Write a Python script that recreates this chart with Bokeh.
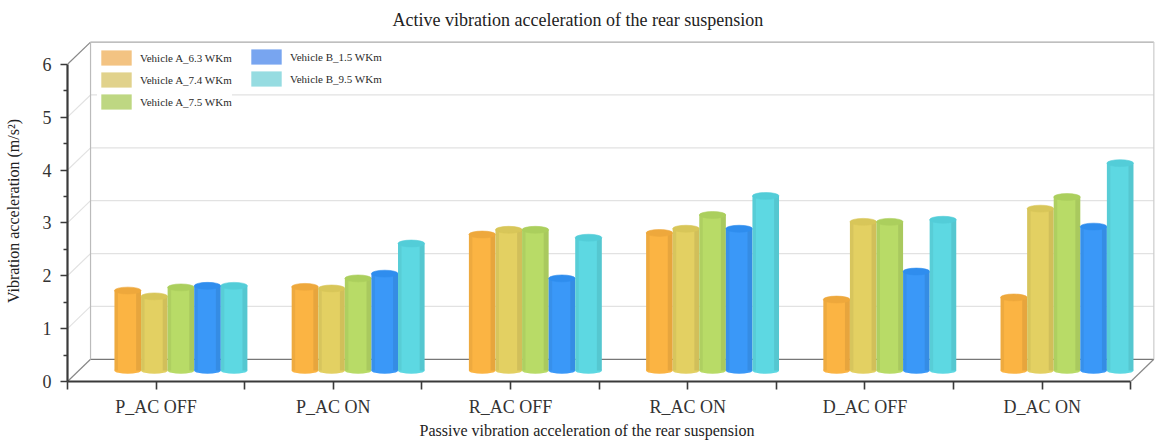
from bokeh.plotting import figure
from bokeh.models import Range1d, LinearAxis, FixedTicker, Legend, LegendItem, Title
from bokeh.embed import file_html
from bokeh.resources import INLINE

# ---------------- data ----------------
categories = ["P_AC OFF", "P_AC ON", "R_AC OFF", "R_AC ON", "D_AC OFF", "D_AC ON"]
series_names = ["Vehicle A_6.3 WKm", "Vehicle A_7.4 WKm", "Vehicle A_7.5 WKm",
                "Vehicle B_1.5 WKm", "Vehicle B_9.5 WKm"]
vehicle_a_63 = [1.51, 1.58, 2.57, 2.60, 1.34, 1.38]
vehicle_a_74 = [1.40, 1.55, 2.66, 2.68, 2.81, 3.06]
vehicle_a_75 = [1.57, 1.74, 2.66, 2.94, 2.81, 3.28]
vehicle_b_15 = [1.60, 1.83, 1.74, 2.68, 1.87, 2.72]
vehicle_b_95 = [1.60, 2.40, 2.51, 3.30, 2.85, 3.92]
y_ticks = [0, 1, 2, 3, 4, 5, 6]

title_text = "Active vibration acceleration of the rear  suspension"
x_label = "Passive vibration acceleration of the rear suspension"
y_label = "Vibration acceleration (m/s\u00b2)"

# ---------------- style ----------------
FONT = "Liberation Serif"
colors = ["#FBB443", "#E3D062", "#B8DB67", "#3A98F8", "#5DD8E2"]
cap_colors = ["#EEA83C", "#D8C659", "#ABCF5D", "#2F8DEE", "#53CDD8"]
legend_colors = ["#F3C382", "#E1D28C", "#BED782", "#78A5F0", "#96DCE1"]
DX, DY = 0.13, 0.42          # oblique depth offset of the back wall (data units)
BAR_W = 0.15
BAR_SHIFT = 0.14
BASE = 0.21
CAP_H = 0.13

all_series = [vehicle_a_63, vehicle_a_74, vehicle_a_75, vehicle_b_15, vehicle_b_95]
n_cat = len(categories)
x0, x1 = 0.5, n_cat + 0.5
ymax = y_ticks[-1]

p = figure(width=1156, height=442, output_backend="svg", toolbar_location=None,
           x_range=Range1d(x0, x1 + DX + 0.015), y_range=Range1d(0, 6.45),
           x_axis_type=None, y_axis_type=None,
           min_border_left=67, min_border_right=0, min_border_top=39, min_border_bottom=61)
p.outline_line_color = None
p.background_fill_color = "white"
p.border_fill_color = "white"

# ---------------- back wall / floor ----------------
gx0, gy0, gx1, gy1, gc, gw = [], [], [], [], [], []
for k in y_ticks:
    gx0.append(x0 + DX); gy0.append(k + DY); gx1.append(x1 + DX); gy1.append(k + DY)
    gc.append("#777777" if k == 0 else ("#aaaaaa" if k == ymax else "#e2e2e2")); gw.append(1.3)
    gx0.append(x0); gy0.append(k); gx1.append(x0 + DX); gy1.append(k + DY)
    gc.append("#888888" if k in (0, ymax) else "#e2e2e2"); gw.append(1.2)
gx0 += [x0 + DX, x1 + DX]; gy0 += [DY, DY]; gx1 += [x0 + DX, x1 + DX]; gy1 += [ymax + DY, ymax + DY]
gc += ["#bbbbbb", "#cccccc"]; gw += [1.2, 1.2]
gx0.append(x1); gy0.append(0); gx1.append(x1 + DX); gy1.append(DY); gc.append("#888888"); gw.append(1.2)
p.segment(x0=gx0, y0=gy0, x1=gx1, y1=gy1, line_color=gc, line_width=gw)

# ---------------- cylinders ----------------
legend_renderers = []
for j, vals in enumerate(all_series):
    xs = [i + 1 + BAR_SHIFT + (j - 2) * BAR_W for i in range(n_cat)]
    tops = [v + BASE for v in vals]
    p.ellipse(x=xs, y=BASE, width=BAR_W, height=CAP_H, fill_color=colors[j], line_color=None)
    p.vbar(x=xs, width=BAR_W, top=tops, bottom=BASE, fill_color=colors[j], line_color=None)
    p.vbar(x=[x - BAR_W / 2 + 0.01 for x in xs], width=0.02, top=tops, bottom=BASE,
           fill_color="black", fill_alpha=0.05, line_color=None)
    p.vbar(x=[x + BAR_W / 2 - 0.014 for x in xs], width=0.028, top=tops, bottom=BASE,
           fill_color="black", fill_alpha=0.08, line_color=None)
    p.ellipse(x=xs, y=tops, width=BAR_W, height=CAP_H, fill_color=cap_colors[j],
              line_color=cap_colors[j], line_alpha=0.6)
    # legend swatch renderer: one zero-height bar outside the visible range
    legend_renderers.append(p.vbar(x=[x0 - 1], width=BAR_W, top=[0], bottom=0,
                                   fill_color=legend_colors[j], line_color=None))

# ---------------- axes ----------------
xax = LinearAxis(ticker=FixedTicker(ticks=[i + 1 for i in range(n_cat)],
                                    minor_ticks=[i + 0.5 for i in range(n_cat + 1)]),
                 bounds=(x0, x1))
xax.major_label_overrides = {i + 1: c for i, c in enumerate(categories)}
yax = LinearAxis(ticker=FixedTicker(ticks=y_ticks, minor_ticks=[t + 0.5 for t in y_ticks[:-1]]),
                 bounds=(0, ymax), axis_label=y_label)
for ax in (xax, yax):
    ax.axis_line_width = 2.2
    ax.axis_line_color = "#3a3a3a"
    ax.major_tick_line_color = "#3a3a3a"
    ax.minor_tick_line_color = "#3a3a3a"
    ax.major_tick_line_width = 1.6
    ax.minor_tick_line_width = 1.6
    ax.major_tick_in = 0
    ax.minor_tick_in = 0
    ax.major_label_text_font = FONT
    ax.major_label_text_color = "#333333"
    ax.axis_label_text_font = FONT
    ax.axis_label_text_font_style = "normal"
    ax.axis_label_text_font_size = "16px"
    ax.axis_label_text_color = "#222222"
xax.major_tick_out = 8
xax.minor_tick_out = 8
xax.major_label_text_font_size = "18px"
xax.major_label_standoff = 7
yax.major_tick_out = 7
yax.minor_tick_out = 4
yax.major_label_text_font_size = "18px"
yax.major_label_standoff = 9
yax.axis_label_standoff = 18
p.add_layout(xax, "below")
p.add_layout(yax, "left")

# ---------------- legends ----------------
def make_legend(idx, loc):
    lg = Legend(items=[LegendItem(label=series_names[k], renderers=[legend_renderers[k]]) for k in idx],
                location=loc, orientation="vertical")
    lg.glyph_width = 38
    lg.glyph_height = 19
    lg.label_height = 19
    lg.label_standoff = 5
    lg.spacing = 3
    lg.padding = 2
    lg.margin = 0
    lg.label_text_font = FONT
    lg.label_text_font_size = "11px"
    lg.label_text_color = "#2a2a2a"
    lg.background_fill_color = "white"
    lg.background_fill_alpha = 1.0
    lg.border_line_color = None
    return lg

p.add_layout(make_legend([0, 1, 2], (30, 270)))
p.add_layout(make_legend([3, 4], (180, 293)))

# ---------------- title and x-axis title ----------------
p.add_layout(Title(text=title_text, align="left", offset=325, text_font=FONT,
                   text_font_size="18px", text_font_style="normal", text_color="#222222",
                   vertical_align="top", standoff=18), "above")
p.add_layout(Title(text=x_label, align="left", offset=352, text_font=FONT,
                   text_font_size="16px", text_font_style="normal", text_color="#222222",
                   vertical_align="middle", standoff=2), "below")

open("out.html", "w").write(file_html(p, INLINE))
